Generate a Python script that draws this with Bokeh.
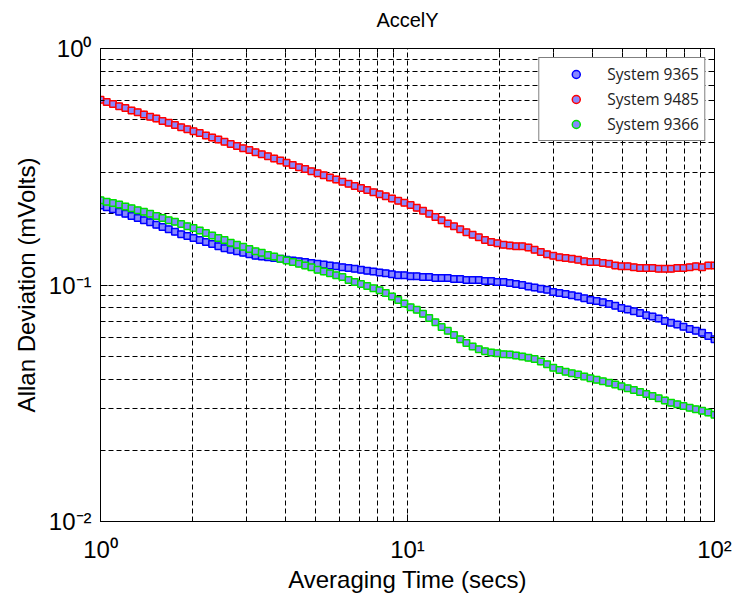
from bokeh.plotting import figure
from bokeh.models import FixedTicker, LogAxis, Legend, LegendItem, ColumnDataSource, Title
from bokeh.embed import file_html
from bokeh.resources import INLINE

# ---- data -------------------------------------------------------------
tau = [1.000, 1.048, 1.098, 1.150, 1.205, 1.262, 1.322, 1.385, 1.451, 1.520,
       1.592, 1.668, 1.748, 1.831, 1.918, 2.009, 2.105, 2.205, 2.310, 2.420,
       2.535, 2.656, 2.783, 2.915, 3.054, 3.199, 3.352, 3.511, 3.678, 3.854,
       4.037, 4.229, 4.431, 4.642, 4.863, 5.094, 5.337, 5.591, 5.857, 6.136,
       6.428, 6.734, 7.055, 7.391, 7.743, 8.111, 8.498, 8.902, 9.326, 9.770,
       10.235, 10.723, 11.233, 11.768, 12.328, 12.915, 13.530, 14.175, 14.850, 15.557,
       16.298, 17.074, 17.886, 18.738, 19.630, 20.565, 21.544, 22.570, 23.645, 24.771,
       25.950, 27.186, 28.480, 29.836, 31.257, 32.745, 34.305, 35.938, 37.649, 39.442,
       41.320, 43.288, 45.349, 47.508, 49.770, 52.140, 54.623, 57.224, 59.948, 62.803,
       65.793, 68.926, 72.208, 75.646, 79.248, 83.022, 86.975, 91.116, 95.455, 100.000]

sys_9365 = [0.217, 0.213, 0.209, 0.204, 0.200, 0.196, 0.192, 0.188, 0.184, 0.180,
            0.176, 0.172, 0.168, 0.164, 0.161, 0.158, 0.155, 0.152, 0.149, 0.146,
            0.143, 0.141, 0.139, 0.137, 0.135, 0.133, 0.132, 0.131, 0.130, 0.129,
            0.128, 0.127, 0.126, 0.125, 0.124, 0.123, 0.122, 0.121, 0.120, 0.119,
            0.118, 0.117, 0.116, 0.115, 0.114, 0.113, 0.112, 0.111, 0.110, 0.110,
            0.109, 0.109, 0.108, 0.108, 0.107, 0.107, 0.107, 0.106, 0.106, 0.105,
            0.105, 0.105, 0.104, 0.104, 0.103, 0.103, 0.102, 0.101, 0.100, 0.0985,
            0.0975, 0.0965, 0.0955, 0.0935, 0.0925, 0.0915, 0.0905, 0.0893, 0.0880, 0.0865,
            0.0855, 0.0845, 0.0832, 0.0818, 0.0800, 0.0788, 0.0775, 0.0762, 0.0745, 0.0735,
            0.0722, 0.0705, 0.0692, 0.0680, 0.0666, 0.0652, 0.0640, 0.0628, 0.0608, 0.0590]

sys_9485 = [0.607, 0.594, 0.583, 0.570, 0.560, 0.547, 0.537, 0.526, 0.515, 0.506,
            0.494, 0.485, 0.475, 0.465, 0.456, 0.447, 0.439, 0.429, 0.420, 0.412,
            0.403, 0.395, 0.387, 0.379, 0.372, 0.364, 0.357, 0.350, 0.343, 0.336,
            0.329, 0.322, 0.315, 0.309, 0.303, 0.297, 0.291, 0.285, 0.279, 0.273,
            0.268, 0.262, 0.257, 0.252, 0.247, 0.242, 0.237, 0.232, 0.227, 0.223,
            0.218, 0.212, 0.206, 0.200, 0.194, 0.188, 0.182, 0.177, 0.172, 0.167,
            0.163, 0.159, 0.155, 0.152, 0.150, 0.148, 0.147, 0.146, 0.146, 0.144,
            0.141, 0.138, 0.135, 0.133, 0.131, 0.130, 0.129, 0.128, 0.126, 0.125,
            0.125, 0.124, 0.123, 0.121, 0.120, 0.120, 0.119, 0.118, 0.118, 0.118,
            0.117, 0.117, 0.117, 0.118, 0.118, 0.119, 0.120, 0.119, 0.121, 0.121]

sys_9366 = [0.228, 0.225, 0.222, 0.219, 0.215, 0.211, 0.207, 0.204, 0.200, 0.196,
            0.192, 0.188, 0.185, 0.181, 0.177, 0.174, 0.170, 0.166, 0.162, 0.158,
            0.155, 0.151, 0.148, 0.145, 0.142, 0.139, 0.137, 0.134, 0.132, 0.129,
            0.127, 0.125, 0.123, 0.121, 0.119, 0.116, 0.114, 0.112, 0.110, 0.108,
            0.105, 0.103, 0.101, 0.0990, 0.0970, 0.0950, 0.0925, 0.0895, 0.0865, 0.0835,
            0.0805, 0.0785, 0.0755, 0.0725, 0.0695, 0.0665, 0.0640, 0.0615, 0.0590, 0.0568,
            0.0550, 0.0535, 0.0525, 0.0518, 0.0514, 0.0510, 0.0508, 0.0503, 0.0498, 0.0492,
            0.0486, 0.0475, 0.0462, 0.0447, 0.0437, 0.0430, 0.0424, 0.0418, 0.0410, 0.0403,
            0.0398, 0.0392, 0.0386, 0.0380, 0.0373, 0.0366, 0.0360, 0.0353, 0.0346, 0.0339,
            0.0332, 0.0325, 0.0318, 0.0313, 0.0308, 0.0303, 0.0298, 0.0294, 0.0289, 0.0283]

series_names = ["System 9365", "System 9485", "System 9366"]
series_colors = ["#0000ff", "#ff0000", "#00e000"]

x_major = [1, 10, 100]
x_minor = [2, 3, 4, 5, 6, 7, 8, 9, 20, 30, 40, 50, 60, 70, 80, 90]
x_tick_labels = ["10\u2070", "10\u00b9", "10\u00b2"]
y_major = [0.01, 0.1, 1]
y_minor = [0.02, 0.03, 0.04, 0.05, 0.06, 0.07, 0.08, 0.09,
           0.2, 0.3, 0.4, 0.5, 0.6, 0.7, 0.8, 0.9]
y_tick_labels = ["10\u207b\u00b2", "10\u207b\u00b9", "10\u2070"]

FONT = "Liberation Sans"

# ---- figure -----------------------------------------------------------
p = figure(width=736, height=599, x_axis_type="log", y_axis_type="log",
           x_range=(1, 100), y_range=(0.01, 1),
           output_backend="svg", toolbar_location=None,
           min_border_left=100, min_border_right=22,
           min_border_top=48, min_border_bottom=78)
p.title = None
p.background_fill_color = "white"
p.border_fill_color = "white"
p.outline_line_color = "black"
p.outline_line_width = 1

# grid: dashed at major and minor positions
for g, maj, mnr in ((p.xgrid, x_major, x_minor), (p.ygrid, y_major, y_minor)):
    g.ticker = FixedTicker(ticks=maj + mnr)
    g.grid_line_color = "black"
    g.grid_line_dash = "5 3"
    g.grid_line_width = 1
    g.grid_line_alpha = 1.0

def style_axis(ax, maj, mnr, labels=None):
    ax.ticker = FixedTicker(ticks=maj, minor_ticks=mnr)
    ax.axis_line_color = "black"
    ax.major_tick_line_color = "black"
    ax.minor_tick_line_color = "black"
    ax.major_tick_in = 7
    ax.major_tick_out = 0
    ax.minor_tick_in = 4
    ax.minor_tick_out = 0
    if labels is None:
        ax.major_label_text_font_size = "0px"
        ax.major_label_text_color = None
        ax.major_label_standoff = 0
    else:
        ax.major_label_overrides = dict(zip(maj, labels))
        ax.major_label_text_font = FONT
        ax.major_label_text_font_size = "24px"
        ax.major_label_text_color = "black"
    ax.axis_label_text_font = FONT
    ax.axis_label_text_font_size = "24px"
    ax.axis_label_text_font_style = "normal"
    ax.axis_label_text_color = "black"

xa = p.xaxis[0]
style_axis(xa, x_major, x_minor, x_tick_labels)
xa.major_label_standoff = 14
xa.axis_label = "Averaging Time (secs)"
xa.axis_label_standoff = 0

ya = p.yaxis[0]
style_axis(ya, y_major, y_minor, y_tick_labels)
ya.major_label_standoff = 9
ya.major_label_orientation = "horizontal"
ya.axis_label = "Allan Deviation (mVolts)"
ya.axis_label_standoff = 6

ax_right = LogAxis()
style_axis(ax_right, y_major, y_minor)
p.add_layout(ax_right, "right")

# top axis: minor ticks inside; its (invisible) outer major ticks keep the
# title lifted above the frame
ax_top = LogAxis()
style_axis(ax_top, x_major, x_minor)
ax_top.major_tick_line_color = None
ax_top.major_tick_out = 18
p.add_layout(ax_top, "above")

title = Title(text="AccelY", align="center", offset=7, standoff=0,
              vertical_align="bottom", text_font=FONT, text_font_size="20px",
              text_font_style="normal", text_color="black")
p.add_layout(title, "above")

# ---- data marks -------------------------------------------------------
all_series = [sys_9365, sys_9485, sys_9366]
proxies = []
for name, col, vals in zip(series_names, series_colors, all_series):
    src = ColumnDataSource(dict(x=tau, y=vals))
    # circle renderer (used as legend glyph) hidden beneath the squares
    proxies.append(p.scatter("x", "y", source=src, marker="circle", size=6,
                             line_color=col, line_width=1.5, fill_color="#8888ff"))
    p.scatter("x", "y", source=src, marker="square", size=6.5,
              line_color=col, line_width=1.5, fill_color="#8888ff")

legend_items = [LegendItem(label=n, renderers=[r]) for n, r in zip(series_names, proxies)]
legend = Legend(items=legend_items, location="top_right",
                label_text_font="Open Sans", label_text_font_size="15.5px",
                label_text_color="#222222",
                border_line_color="black", border_line_width=1,
                background_fill_color="white", background_fill_alpha=1,
                padding=5, margin=9, spacing=3,
                glyph_width=63, glyph_height=20, label_height=20,
                label_standoff=0)
p.add_layout(legend, "center")

open("out.html", "w").write(file_html(p, INLINE))
